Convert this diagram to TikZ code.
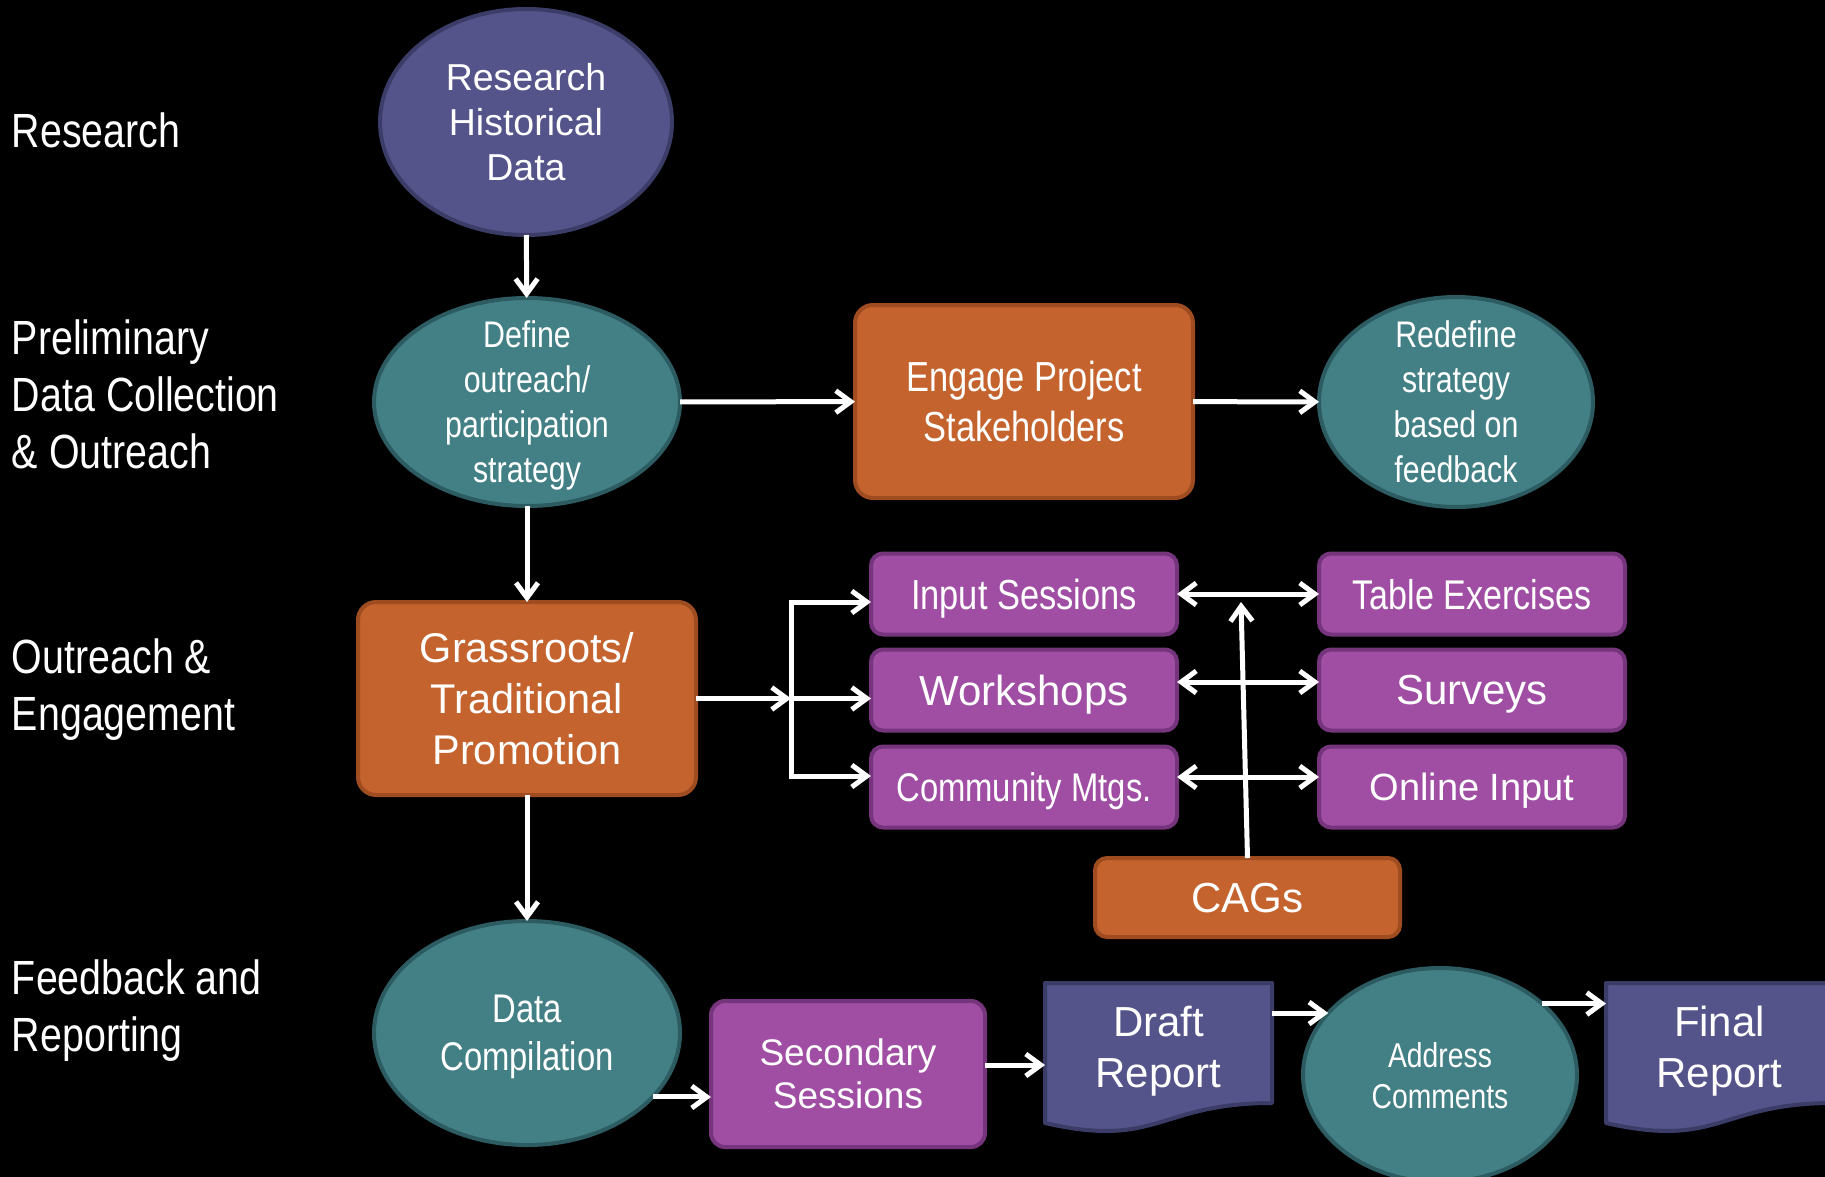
\documentclass[tikz,border=0pt]{standalone}
\usepackage{fontspec}
\setmainfont{Liberation Sans}
\newfontfamily\narrowfont[FakeStretch=0.82]{Liberation Sans}
\usetikzlibrary{shapes.geometric,arrows.meta,calc}

\definecolor{c54548a}{RGB}{84,84,138}
\definecolor{c3c3c68}{RGB}{60,60,104}
\definecolor{c428085}{RGB}{66,128,133}
\definecolor{c2c5c61}{RGB}{44,92,97}
\definecolor{cc4632d}{RGB}{196,99,45}
\definecolor{c9e4c20}{RGB}{158,76,32}
\definecolor{ca04ea3}{RGB}{160,78,163}
\definecolor{c76347c}{RGB}{118,52,124}

\tikzset{
  blueoval/.style={ellipse, inner sep=-40pt, draw=c3c3c68, fill=c54548a, line width=4pt, text=white,
    align=center, text depth=0pt},
  tealoval/.style={ellipse, inner sep=-40pt, draw=c2c5c61, fill=c428085, line width=4pt, text=white,
    align=center, text depth=0pt},
  orangebox/.style={rectangle, rounded corners=18pt, draw=c9e4c20, fill=cc4632d, line width=4pt, text=white,
    align=center, text depth=0pt},
  purplebox/.style={rectangle, rounded corners=12pt, draw=c76347c, fill=ca04ea3, line width=4pt, text=white,
    text depth=0pt, minimum width=306pt, minimum height=81pt},
  docshape/.style={draw=c3c3c68, fill=c54548a, line width=4pt, line join=round},
  doctext/.style={text=white, align=center, text depth=0pt, minimum width=227pt, minimum height=120pt,
    font=\fontsize{42}{51}\selectfont},
  sidelabel/.style={anchor=west, align=left, text=white, font=\narrowfont\fontsize{48}{57}\selectfont},
  arr/.style={draw=white, line width=5pt, -{Straight Barb[length=15pt,width=22pt]}},
  dblarr/.style={draw=white, line width=5pt, {Straight Barb[length=15pt,width=22pt]}-{Straight Barb[length=15pt,width=22pt]}},
}

\begin{document}
\begin{tikzpicture}[y=1pt, x=1pt, yscale=-1, inner sep=0pt, outer sep=0pt]

  \fill[black] (0,0) rectangle (1825,1177);
  \useasboundingbox (0,0) rectangle (1825,1177);

  % stage labels
  \node[sidelabel] (lblresearch) at (12,130) {Research};
  \node[sidelabel] (lblprelim) at (12,394) {Preliminary\\Data Collection\\\& Outreach};
  \node[sidelabel] (lbloutreach) at (12,690) {Outreach \&\\Engagement};
  \node[sidelabel] (lblfeedback) at (12,1011) {Feedback and\\Reporting};

  % main column
  \node[blueoval, minimum width=292pt, minimum height=226pt, font=\fontsize{37.5}{45}\selectfont]
    (research) at (526,122) {Research\\Historical\\Data};
  \node[tealoval, minimum width=306pt, minimum height=208pt, font=\narrowfont\fontsize{37}{45}\selectfont]
    (define) at (527,402) {Define\\outreach/\\participation\\strategy};
  \node[orangebox, minimum width=338pt, minimum height=193pt, font=\narrowfont\fontsize{42}{50}\selectfont]
    (engage) at (1024,401.5) {Engage Project\\Stakeholders};
  \node[tealoval, minimum width=274pt, minimum height=210pt, font=\narrowfont\fontsize{37}{45}\selectfont]
    (redefine) at (1456,402) {Redefine\\strategy\\based on\\feedback};
  \node[orangebox, minimum width=338pt, minimum height=193pt, font=\fontsize{41.5}{51}\selectfont]
    (grassroots) at (527,698.5) {Grassroots/\\Traditional\\Promotion};

  % engagement tools
  \node[purplebox, font=\narrowfont\fontsize{42}{50}\selectfont] (input) at (1024,594) {Input Sessions};
  \node[purplebox, font=\fontsize{42}{50}\selectfont] (workshops) at (1024,690) {Workshops};
  \node[purplebox, font=\narrowfont\fontsize{40}{48}\selectfont] (community) at (1024,787) {Community Mtgs.};
  \node[purplebox, font=\narrowfont\fontsize{41.5}{50}\selectfont] (table) at (1472,594) {Table Exercises};
  \node[purplebox, font=\fontsize{42}{50}\selectfont] (surveys) at (1472,690) {Surveys};
  \node[purplebox, font=\fontsize{38}{46}\selectfont] (online) at (1472,787) {Online Input};
  \node[orangebox, rounded corners=12pt, minimum width=305pt, minimum height=79pt, font=\fontsize{42}{50}\selectfont]
    (cags) at (1247.5,897.5) {CAGs};

  % reporting row
  \node[tealoval, minimum width=306pt, minimum height=224pt, font=\narrowfont\fontsize{40}{48}\selectfont]
    (datacomp) at (527,1033) {Data\\Compilation};
  \node[rectangle, rounded corners=14pt, draw=c76347c, fill=ca04ea3, line width=4pt, text=white, align=center,
    text depth=0pt, minimum width=274pt, minimum height=146pt, font=\fontsize{37}{43}\selectfont]
    (secondary) at (848,1074) {Secondary\\Sessions};
  \path[docshape] (1045,983) -- (1272,983) -- (1272,1103) .. controls (1158.5,1103) and (1158.5,1149) ..
    (1045,1123) -- cycle;
  \node[doctext] (draft) at (1158.5,1047) {Draft\\Report};
  \node[tealoval, minimum width=274pt, minimum height=214pt, font=\narrowfont\fontsize{34.5}{41}\selectfont]
    (address) at (1440,1075) {Address\\Comments};
  \path[docshape] (1606,983) -- (1833,983) -- (1833,1103) .. controls (1719.5,1103) and (1719.5,1149) ..
    (1606,1123) -- cycle;
  \node[doctext] (final) at (1719.5,1047) {Final\\Report};

  % connectors
  \coordinate (split) at (791,698.5);
  \coordinate (splittop) at (791,602);
  \coordinate (splitbot) at (791,776);
  \coordinate (wsout) at ($(workshops.east)+(0,-8)$);
  \coordinate (cmout) at ($(community.east)+(0,-10)$);
  \coordinate (cagtip) at (1241,602);
  \coordinate (secout) at ($(secondary.east)+(0,-9)$);

  \draw[arr] (research) -- (define);
  \draw[arr] (define) -- (engage);
  \draw[arr] (engage) -- (redefine);
  \draw[arr] (define) -- (grassroots);
  \draw[arr] (grassroots) -- (datacomp);
  \draw[arr] (grassroots.east) -- (split);
  \draw[dblarr] (splitbot -| community.west) -- (splitbot) -- (splittop) -- (splittop -| input.west);
  \draw[arr] (split) -- (split -| workshops.west);
  \draw[dblarr] (input) -- (table);
  \draw[dblarr] (wsout) -- (wsout -| surveys.west);
  \draw[dblarr] (cmout) -- (cmout -| online.west);
  \draw[arr] (cags.north) -- (cagtip);
  \draw[arr] (datacomp.-27.5) -- (datacomp.-27.5 -| secondary.west);
  \draw[arr] (secout) -- (secout -| draft.west);
  \draw[arr] (address.151.7 -| draft.east) -- (address.151.7);
  \draw[arr] (address.35.6) -- (address.35.6 -| final.west);

\end{tikzpicture}
\end{document}
